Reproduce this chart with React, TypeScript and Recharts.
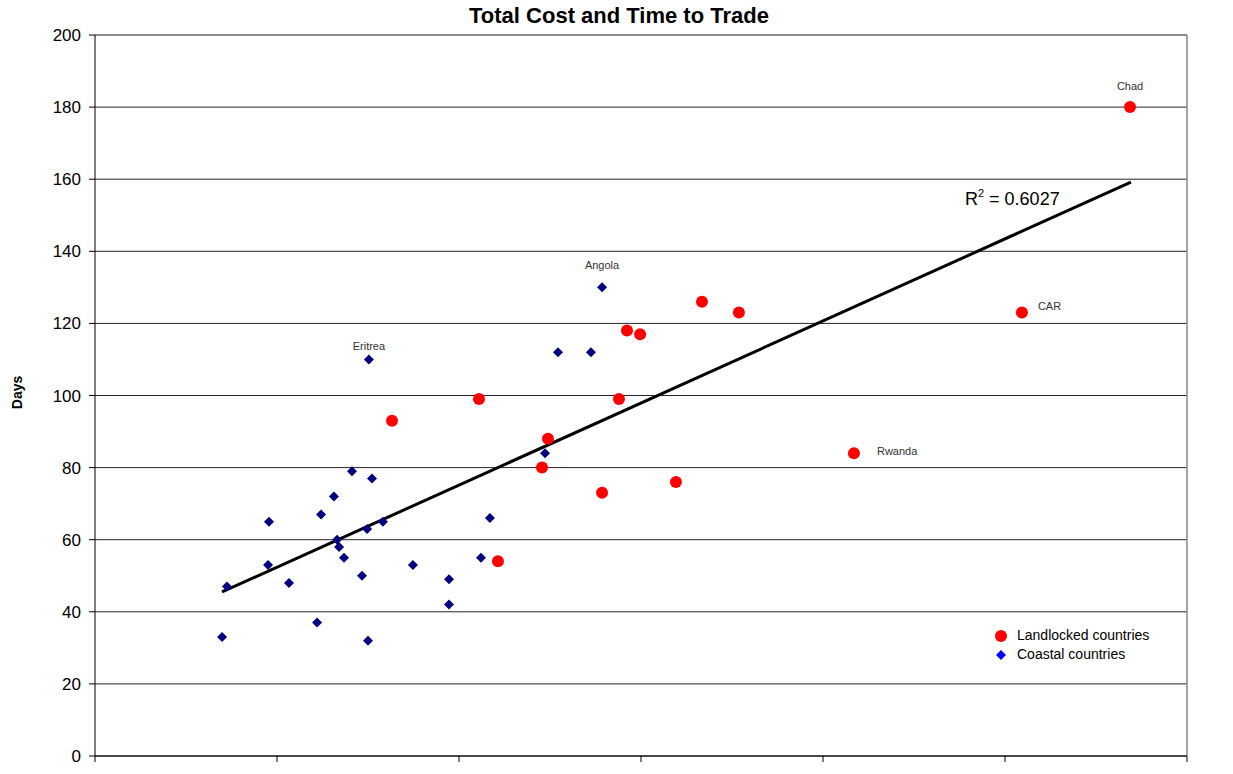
import { ScatterChart, Scatter, XAxis, YAxis, CartesianGrid, ReferenceLine, ReferenceDot } from 'recharts'

// x = total cost (no labels shown on the axis), y = days
const landlocked = [
  { x: 5687, y: 180, name: 'Chad' },
  { x: 5093, y: 123, name: 'CAR' },
  { x: 4170, y: 84, name: 'Rwanda' },
  { x: 3335, y: 126 },
  { x: 3538, y: 123 },
  { x: 2923, y: 118 },
  { x: 2995, y: 117 },
  { x: 2879, y: 99 },
  { x: 2110, y: 99 },
  { x: 1632, y: 93 },
  { x: 2489, y: 88 },
  { x: 2456, y: 80 },
  { x: 2786, y: 73 },
  { x: 3192, y: 76 },
  { x: 2214, y: 54 },
]

const coastal = [
  { x: 2786, y: 130, name: 'Angola' },
  { x: 1505, y: 110, name: 'Eritrea' },
  { x: 2544, y: 112 },
  { x: 2725, y: 112 },
  { x: 2473, y: 84 },
  { x: 1412, y: 79 },
  { x: 1522, y: 77 },
  { x: 1313, y: 72 },
  { x: 1242, y: 67 },
  { x: 956, y: 65 },
  { x: 1582, y: 65 },
  { x: 2170, y: 66 },
  { x: 1495, y: 63 },
  { x: 1330, y: 60 },
  { x: 1341, y: 58 },
  { x: 1368, y: 55 },
  { x: 2121, y: 55 },
  { x: 951, y: 53 },
  { x: 1747, y: 53 },
  { x: 1467, y: 50 },
  { x: 1066, y: 48 },
  { x: 1945, y: 49 },
  { x: 725, y: 47 },
  { x: 1945, y: 42 },
  { x: 1220, y: 37 },
  { x: 698, y: 33 },
  { x: 1500, y: 32 },
]

const trendLine = [
  { x: 698, y: 45.5 },
  { x: 5692, y: 159.2 },
]

const yTicks = [0, 20, 40, 60, 80, 100, 120, 140, 160, 180, 200]
const xTicks = [0, 1000, 2000, 3000, 4000, 5000, 6000]

const FONT = '"Liberation Sans", Arial, sans-serif'

const labelOffsets: Record<string, { dx: number; dy: number; anchor: 'start' | 'middle' }> = {
  Chad: { dx: 0, dy: -17, anchor: 'middle' },
  Angola: { dx: 0, dy: -18, anchor: 'middle' },
  Eritrea: { dx: 0, dy: -9, anchor: 'middle' },
  CAR: { dx: 16, dy: -3, anchor: 'start' },
  Rwanda: { dx: 23, dy: 2, anchor: 'start' },
}

function pointLabel(cx: number, cy: number, name?: string) {
  if (!name || !labelOffsets[name]) return null
  const o = labelOffsets[name]
  return (
    <text x={cx + o.dx} y={cy + o.dy} textAnchor={o.anchor} fontSize={11} fill="#333" fontFamily={FONT}>
      {name}
    </text>
  )
}

const CircleShape = (props: any) => {
  const { cx, cy, payload } = props
  return (
    <g>
      <circle cx={cx} cy={cy} r={6} fill="#FF0000" />
      {pointLabel(cx, cy, payload?.name)}
    </g>
  )
}

const DiamondShape = (props: any) => {
  const { cx, cy, payload } = props
  const s = 5
  return (
    <g>
      <polygon points={`${cx},${cy - s} ${cx + s},${cy} ${cx},${cy + s} ${cx - s},${cy}`} fill="#000080" />
      {pointLabel(cx, cy, payload?.name)}
    </g>
  )
}

export default function App() {
  return (
    <div style={{ position: 'absolute', left: 0, top: 0, width: 1233, height: 774, background: '#fff' }}>
      <div
        style={{
          position: 'absolute',
          left: 0,
          top: 3,
          width: 1238,
          textAlign: 'center',
          fontFamily: FONT,
          fontWeight: 'bold',
          fontSize: 22,
        }}
      >
        Total Cost and Time to Trade
      </div>
      <ScatterChart width={1233} height={774} margin={{ top: 35, right: 46, bottom: 0, left: 0 }}>
        <CartesianGrid horizontal vertical={false} stroke="#000" strokeOpacity={0.85} />
        <XAxis
          type="number"
          dataKey="x"
          domain={[0, 6000]}
          ticks={xTicks}
          tickFormatter={() => ''}
          height={18}
          tickSize={6}
          stroke="#000"
          allowDataOverflow
        />
        <YAxis
          type="number"
          dataKey="y"
          domain={[0, 200]}
          ticks={yTicks}
          width={95}
          tickSize={6}
          tickMargin={8}
          stroke="#000"
          tick={{ fill: '#000', fontSize: 17, fontFamily: FONT }}
          label={({ viewBox }: any) => (
            <text
              x={viewBox.x + 22}
              y={viewBox.y + viewBox.height / 2 - 3}
              transform={`rotate(-90, ${viewBox.x + 22}, ${viewBox.y + viewBox.height / 2 - 3})`}
              textAnchor="middle"
              fontSize={14}
              fontWeight="bold"
              fontFamily={FONT}
              fill="#000"
            >
              Days
            </text>
          )}
        />
        <ReferenceLine y={200} stroke="#888" strokeWidth={1.5} />
        <ReferenceLine x={6000} stroke="#888" strokeWidth={1.5} />
        <ReferenceLine segment={trendLine} stroke="#000" strokeWidth={3} />
        <Scatter name="Landlocked countries" data={landlocked} shape={CircleShape} isAnimationActive={false} />
        <Scatter name="Coastal countries" data={coastal} shape={DiamondShape} isAnimationActive={false} />
        <ReferenceDot
          x={4780}
          y={154.5}
          r={0}
          stroke="none"
          label={({ viewBox }: any) => (
            <text x={viewBox.x} y={viewBox.y + 6} fontSize={18} fontFamily={FONT} fill="#000">
              R
              <tspan fontSize={11} dy={-8}>2</tspan>
              <tspan dy={8}> = 0.6027</tspan>
            </text>
          )}
        />
      </ScatterChart>
      <div
        style={{
          position: 'absolute',
          left: 994,
          top: 626,
          fontFamily: FONT,
          fontSize: 14,
          color: '#000',
          lineHeight: '19px',
        }}
      >
        <div style={{ display: 'flex', alignItems: 'center' }}>
          <svg width={16} height={14}>
            <circle cx={7} cy={7} r={6} fill="#FF0000" />
          </svg>
          <span style={{ marginLeft: 7 }}>Landlocked countries</span>
        </div>
        <div style={{ display: 'flex', alignItems: 'center' }}>
          <svg width={16} height={14}>
            <polygon points="7,2 12,7 7,12 2,7" fill="#0000FF" />
          </svg>
          <span style={{ marginLeft: 7 }}>Coastal countries</span>
        </div>
      </div>
    </div>
  )
}
